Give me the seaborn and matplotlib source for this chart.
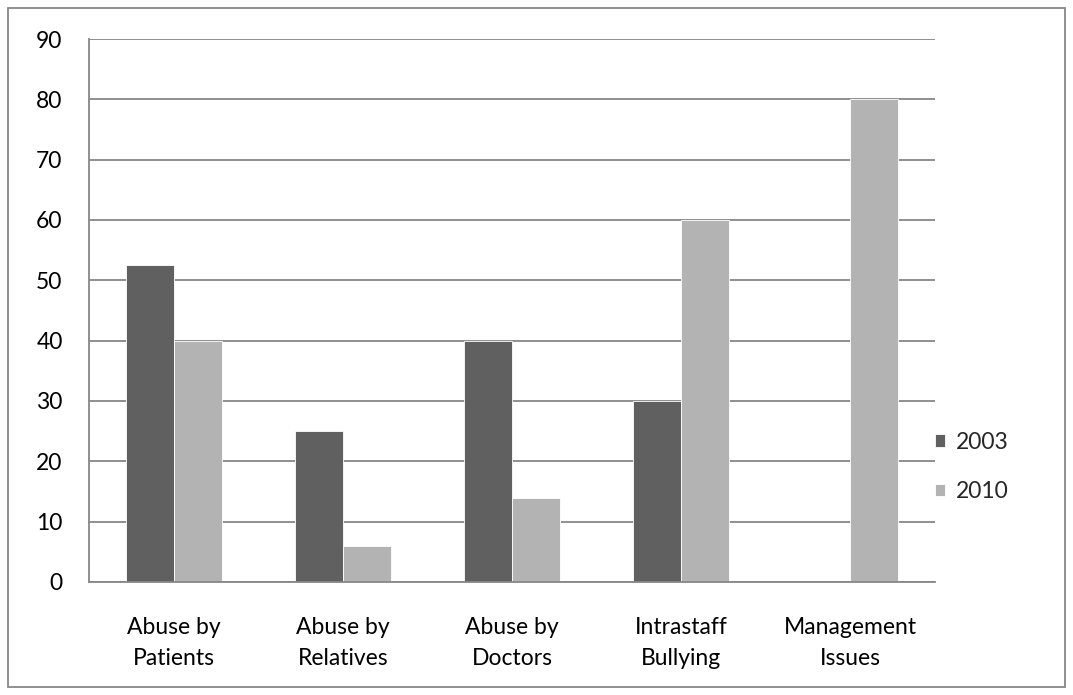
import pandas as pd
import matplotlib.pyplot as plt
import seaborn as sns
from matplotlib.patches import Rectangle

# --- data ---
categories = ["Abuse by\nPatients", "Abuse by\nRelatives", "Abuse by\nDoctors",
              "Intrastaff\nBullying", "Management\nIssues"]
values_2003 = [52.5, 25, 40, 30, 0]
values_2010 = [40, 6, 14, 60, 80]
years = ["2003", "2010"]

df = pd.DataFrame({
    "Category": categories * 2,
    "Value": values_2003 + values_2010,
    "Year": [years[0]] * len(categories) + [years[1]] * len(categories),
})

sns.set_theme(style="white")
plt.rcParams['font.family'] = ['Lato', 'DejaVu Sans']

FS = 16.5
fig = plt.figure(figsize=(10.73, 6.95), dpi=100)
ax = fig.add_axes([89 / 1073, 1 - 582 / 695, (935 - 89) / 1073, (582 - 39) / 695])

grid_c = "#878787"
sns.barplot(data=df, x="Category", y="Value", hue="Year",
            palette=["#606060", "#b3b3b3"], width=0.567, ax=ax,
            edgecolor="white", linewidth=0.6, saturation=1)

ax.set_ylim(0, 90)
ax.set_yticks(range(0, 91, 10))
ax.set_xlim(-0.5, len(categories) - 0.5)
ax.yaxis.grid(True, color=grid_c, linewidth=1.3)
ax.set_axisbelow(True)
ax.set_xlabel("")
ax.set_ylabel("")
for s in ["top", "right"]:
    ax.spines[s].set_visible(False)
for s in ["left", "bottom"]:
    ax.spines[s].set_color(grid_c)
    ax.spines[s].set_linewidth(1.3)
ax.tick_params(axis="both", labelsize=FS, colors="black", length=0)
ax.tick_params(axis="x", pad=25)
ax.tick_params(axis="y", pad=19)
for lbl in ax.get_xticklabels():
    lbl.set_linespacing(1.6)

ax.legend(title=None, frameon=False, fontsize=FS, loc="center left",
          bbox_to_anchor=(1.0, 0.212), borderaxespad=0, borderpad=0,
          handlelength=0.45, handleheight=0.45,
          labelspacing=1.25, handletextpad=0.45)

# outer frame
fig.patches.append(Rectangle((8 / 1073, 8 / 695), 1 - 16 / 1073, 1 - 16 / 695,
                             transform=fig.transFigure, fill=False,
                             edgecolor="#878787", linewidth=1.3))

fig.savefig("out.png", dpi=100)
